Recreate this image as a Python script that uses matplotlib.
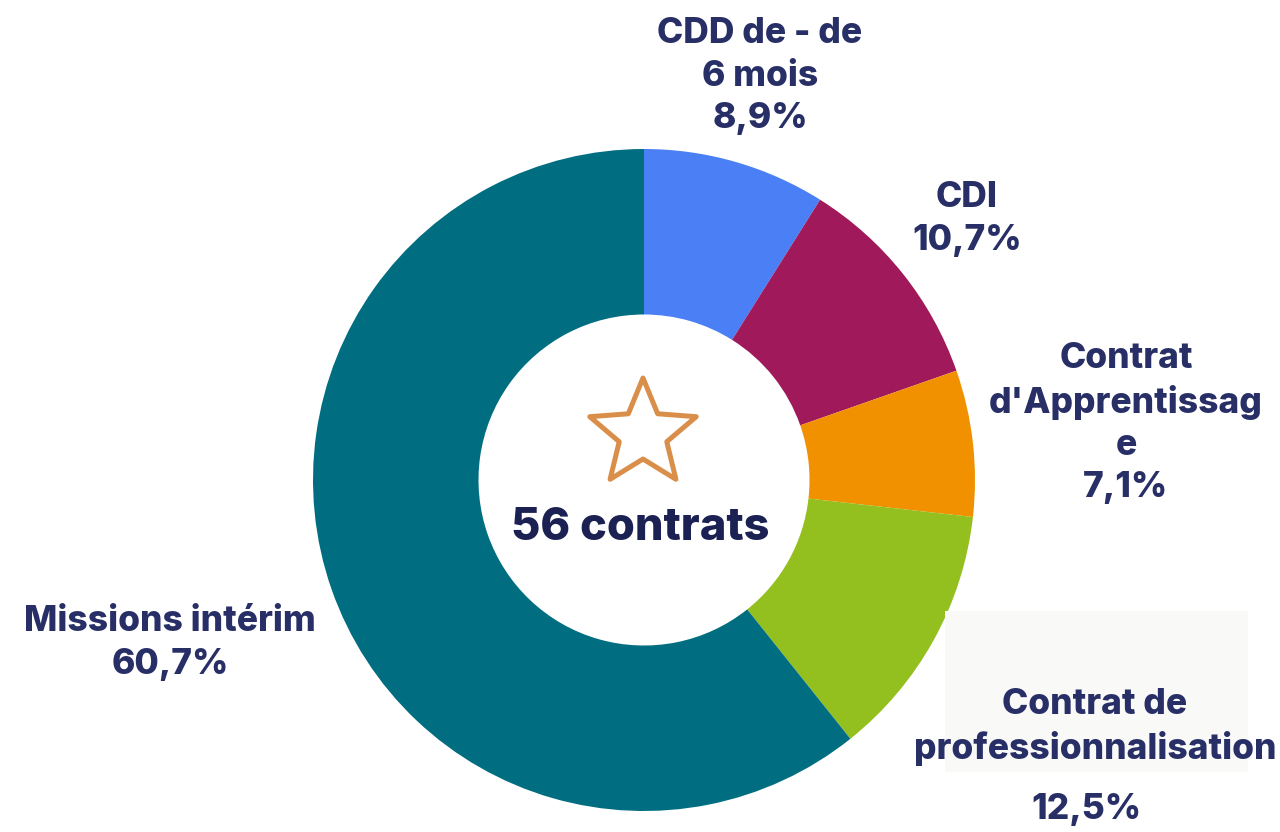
import matplotlib.pyplot as plt
from matplotlib.patches import Rectangle, Polygon
import numpy as np

plt.rcParams['font.family'] = ['Inter', 'DejaVu Sans']

# contrats signés, dans l'ordre des aiguilles d'une montre depuis midi
categories = ["CDD de - de\n6 mois", "CDI", "Contrat\nd'Apprentissag\ne",
              "Contrat de\nprofessionnalisation", "Missions intérim"]
counts = [5, 6, 4, 7, 34]
colors = ["#4a7ff5", "#a0195a", "#f29100", "#93c01f", "#006e80"]

total = sum(counts)
pcts = [c / total * 100 for c in counts]

W, H = 1280, 832
fig = plt.figure(figsize=(12.8, 8.32), dpi=100)
ax = fig.add_axes([0, 0, 1, 1])

cx, cy = 644, H - 480
r_out, r_in = 331, 165.5

ax.pie(counts, colors=colors, startangle=90, counterclock=False,
       center=(cx, cy), radius=r_out, frame=True,
       wedgeprops=dict(width=r_out - r_in, linewidth=0))
ax.set_xlim(0, W)
ax.set_ylim(0, H)
ax.set_aspect('equal')
ax.axis('off')

# fond clair derrière l'étiquette du contrat de professionnalisation
ax.add_patch(Rectangle((945, H - 772), 303, 161, facecolor="#f9f9f7",
                       edgecolor='none', zorder=3))

txt_color = "#282f66"
fs = 25.5
fw = 800
ls = 1.36


def fmt(p):
    return f"{p:.1f}".replace('.', ',') + "%"


label_pos = [(760, 76), (967, 219), (1126, 423), (1095, 727), (170, 643)]
for i, (name, p, (x, y)) in enumerate(zip(categories, pcts, label_pos)):
    if i == 3:
        ax.text(x, H - y, name, ha='center', va='center', fontsize=fs,
                fontweight=fw, color=txt_color, linespacing=ls, zorder=4)
        ax.text(1086, H - 810, fmt(p), ha='center', va='center', fontsize=fs,
                fontweight=fw, color=txt_color, zorder=4)
    else:
        ax.text(x, H - y, name + "\n" + fmt(p), ha='center', va='center',
                fontsize=fs, fontweight=fw, color=txt_color,
                linespacing=ls, zorder=4)

# étoile au centre
sx, sy, R, r = 643, H - 434, 56, 25
ang = np.pi / 2 + np.arange(10) * np.pi / 5
rad = np.where(np.arange(10) % 2 == 0, R, r)
pts = np.column_stack([sx + rad * np.cos(ang), sy + rad * np.sin(ang)])
ax.add_patch(Polygon(pts, closed=True, fill=False, edgecolor="#d98f4a",
                     linewidth=3.6, joinstyle='round', zorder=4))

ax.text(640, H - 528, f"{total} contrats", ha='center', va='center',
        fontsize=32.5, fontweight=fw, color="#1b2152", zorder=4)

fig.savefig("out.png", dpi=100)
